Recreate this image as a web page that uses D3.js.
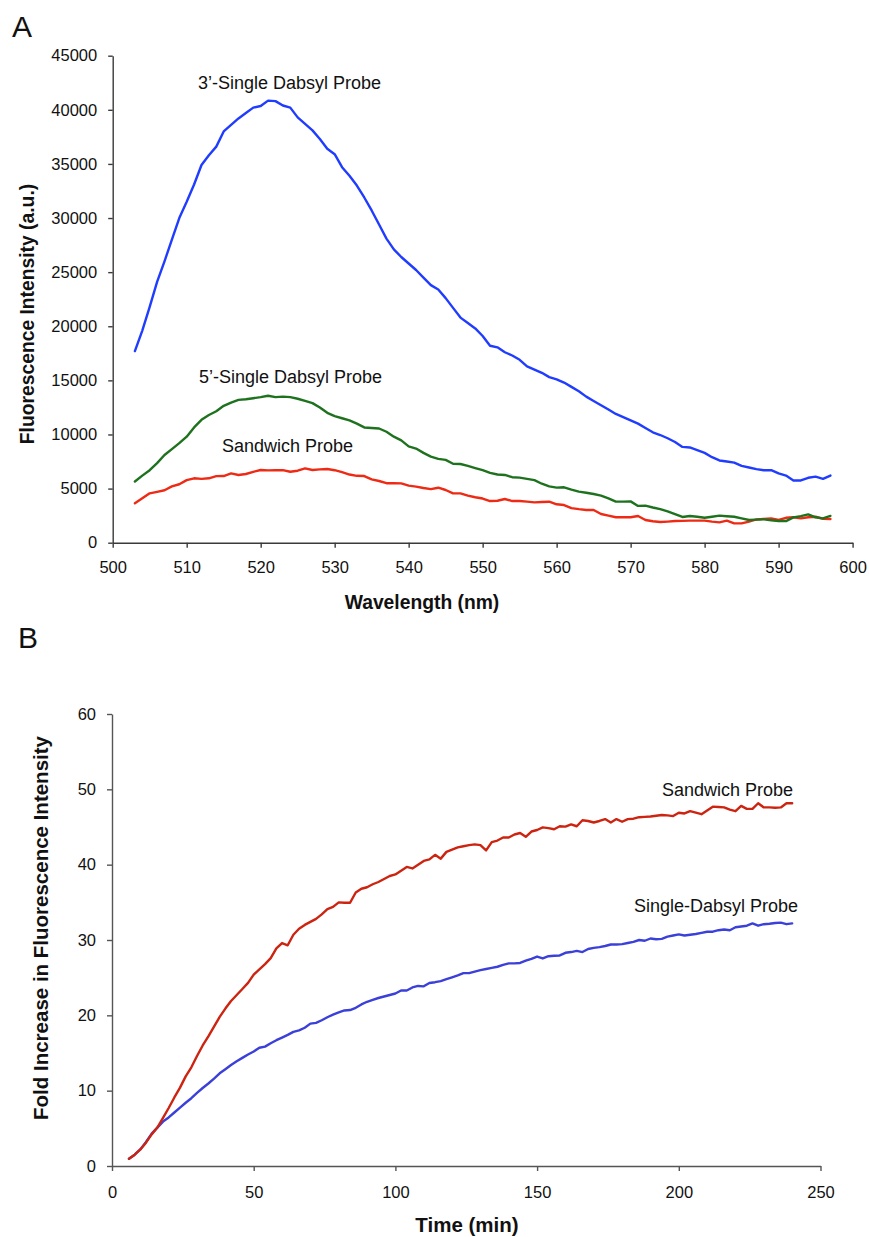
<!DOCTYPE html>
<html>
<head>
<meta charset="utf-8">
<script src="https://cdn.jsdelivr.net/npm/d3@7"></script>
<style>
    body { margin: 0; background: #fff; }
    text { font-family: "Liberation Sans", Arial, sans-serif; fill: #111; }
</style>
</head>
<body>
<div id="viz"></div>
<script>
// panel A : emission spectra, 503..597 nm
var wavelengths = d3.range(503, 598);

var single3 = [17700, 19600, 21800, 24100, 26000, 28000, 30000, 31500, 33100, 34900,
    35800, 36600, 38000, 38600, 39200, 39700, 40200, 40350, 40850, 40800,
    40400, 40200, 39300, 38700, 38100, 37300, 36400, 35900, 34700, 33900,
    33000, 31900, 30700, 29400, 28100, 27100, 26400, 25800, 25200, 24500,
    23800, 23400, 22600, 21700, 20800, 20300, 19800, 19100, 18200, 18050,
    17600, 17300, 16900, 16300, 16000, 15700, 15300, 15100, 14800, 14400,
    14000, 13500, 13100, 12700, 12300, 11900, 11600, 11300, 11000, 10600,
    10200, 9950, 9650, 9300, 8850, 8800, 8550, 8300, 7900, 7600,
    7500, 7400, 7100, 6950, 6800, 6700, 6700, 6400, 6200, 5750,
    5750, 6000, 6100, 5900, 6200];

var single5 = [5650, 6200, 6700, 7350, 8100, 8650, 9200, 9800, 10650, 11350,
    11800, 12150, 12650, 12950, 13200, 13250, 13350, 13450, 13580, 13450,
    13500, 13450, 13300, 13100, 12900, 12500, 12000, 11700, 11500, 11300,
    11000, 10650, 10600, 10550, 10250, 9800, 9450, 8900, 8700, 8300,
    7950, 7750, 7650, 7300, 7270, 7100, 6900, 6700, 6450, 6300,
    6260, 6050, 6010, 5900, 5780, 5450, 5200, 5090, 5120, 4900,
    4720, 4620, 4500, 4350, 4100, 3800, 3800, 3820, 3400, 3420,
    3250, 3100, 2900, 2650, 2380, 2470, 2400, 2310, 2400, 2500,
    2450, 2400, 2250, 2100, 2130, 2160, 2080, 2000, 2000, 2340,
    2450, 2620, 2350, 2250, 2470];

var sandwichA = [3640, 4100, 4560, 4700, 4850, 5200, 5400, 5780, 5950, 5900,
    5950, 6150, 6160, 6400, 6260, 6350, 6550, 6720, 6680, 6700,
    6700, 6560, 6650, 6870, 6720, 6780, 6810, 6700, 6520, 6300,
    6180, 6160, 5850, 5700, 5500, 5490, 5480, 5270, 5180, 5050,
    4950, 5080, 4870, 4560, 4560, 4350, 4200, 4080, 3850, 3880,
    4040, 3850, 3850, 3800, 3730, 3760, 3790, 3550, 3480, 3200,
    3100, 3020, 3020, 2650, 2500, 2350, 2350, 2350, 2470, 2100,
    1980, 1910, 1950, 2000, 2020, 2040, 2040, 2040, 1950, 1880,
    2040, 1790, 1790, 1950, 2150, 2200, 2250, 2100, 2300, 2350,
    2250, 2350, 2400, 2200, 2190];

var aTicksX = [500, 510, 520, 530, 540, 550, 560, 570, 580, 590, 600];
var aTicksY = [0, 5000, 10000, 15000, 20000, 25000, 30000, 35000, 40000, 45000];

// panel B : kinetics, 6..240 min every 2 min
var times = d3.range(6, 241, 2);

var sandwichB = [0.95, 1.5, 2.2, 3.1, 4.2, 5.1, 6.4, 7.7, 9.1, 10.4,
    11.9, 13.1, 14.6, 16.0, 17.2, 18.5, 19.8, 20.9, 21.9, 22.7,
    23.5, 24.3, 25.4, 26.1, 26.8, 27.6, 28.9, 29.6, 29.3, 30.7,
    31.5, 32.0, 32.4, 32.8, 33.4, 34.1, 34.4, 35.0, 34.95, 34.95,
    36.3, 36.8, 37.0, 37.4, 37.7, 38.1, 38.5, 38.7, 39.2, 39.7,
    39.5, 40.0, 40.5, 40.7, 41.3, 40.8, 41.7, 42.0, 42.3, 42.45,
    42.6, 42.7, 42.6, 41.9, 43.0, 43.2, 43.6, 43.6, 44.0, 44.2,
    43.7, 44.4, 44.6, 44.95, 44.85, 44.7, 45.1, 45.05, 45.35, 45.1,
    45.9, 45.8, 45.6, 45.8, 46.05, 45.6, 46.05, 45.7, 46.05, 46.1,
    46.3, 46.35, 46.4, 46.5, 46.6, 46.55, 46.45, 46.9, 46.8, 47.1,
    46.9, 46.7, 47.2, 47.7, 47.65, 47.6, 47.3, 47.1, 47.8, 47.4,
    47.4, 48.15, 47.6, 47.6, 47.55, 47.6, 48.15, 48.15];

var singleB = [0.95, 1.5, 2.2, 3.2, 4.3, 5.1, 5.9, 6.45, 7.1, 7.75,
    8.4, 9.0, 9.7, 10.35, 10.95, 11.6, 12.3, 12.85, 13.4, 13.9,
    14.35, 14.8, 15.2, 15.7, 15.85, 16.3, 16.7, 17.05, 17.4, 17.8,
    18.0, 18.35, 18.9, 19.0, 19.35, 19.75, 20.1, 20.4, 20.65, 20.7,
    21.0, 21.45, 21.8, 22.05, 22.3, 22.5, 22.7, 22.9, 23.3, 23.3,
    23.7, 23.9, 23.85, 24.3, 24.4, 24.55, 24.8, 25.05, 25.3, 25.6,
    25.6, 25.8, 26.0, 26.15, 26.3, 26.45, 26.7, 26.9, 26.9, 26.95,
    27.25, 27.5, 27.8, 27.55, 27.85, 27.9, 27.95, 28.3, 28.4, 28.55,
    28.4, 28.8, 28.95, 29.05, 29.2, 29.4, 29.4, 29.45, 29.6, 29.75,
    30.0, 29.9, 30.2, 30.1, 30.15, 30.45, 30.6, 30.75, 30.6, 30.7,
    30.8, 30.95, 31.1, 31.1, 31.3, 31.4, 31.3, 31.7, 31.8, 31.9,
    32.2, 31.9, 32.1, 32.15, 32.25, 32.3, 32.1, 32.2];

var bTicksX = [0, 50, 100, 150, 200, 250];
var bTicksY = [0, 10, 20, 30, 40, 50, 60];

var width = 869;
var height = 1237;

var svg = d3.select("#viz").append("svg")
    .attr("width", width)
    .attr("height", height);

// ---------- panel A ----------
var xA = d3.scaleLinear().domain([500, 600]).range([112.7, 852.6]);
var yA = d3.scaleLinear().domain([0, 45000]).range([542.7, 55.7]);

var gA = svg.append("g");

gA.append("g")
    .attr("transform", "translate(0," + yA(0) + ")")
    .call(d3.axisBottom(xA).tickValues(aTicksX).tickSize(5).tickSizeOuter(0).tickPadding(13.6).tickFormat(d3.format("d")))
    .call(styleAxis, "#3a3a3a");

gA.append("g")
    .attr("transform", "translate(" + xA(500) + ",0)")
    .call(d3.axisLeft(yA).tickValues(aTicksY).tickSize(4.5).tickSizeOuter(0).tickPadding(11).tickFormat(d3.format("d")))
    .call(styleAxis, "#3a3a3a");

drawLine(gA, wavelengths, sandwichA, xA, yA, "#ee2a14", 2.4);
drawLine(gA, wavelengths, single5, xA, yA, "#1e721e", 2.4);
drawLine(gA, wavelengths, single3, xA, yA, "#1f3cff", 2.4);

gA.append("text").attr("x", 12).attr("y", 37).style("font-size", "30px").text("A");

gA.append("text")
    .attr("transform", "translate(34,314) rotate(-90)")
    .attr("text-anchor", "middle")
    .style("font-size", "19.3px").style("font-weight", "bold")
    .text("Fluorescence Intensity (a.u.)");

gA.append("text")
    .attr("x", 422).attr("y", 609)
    .attr("text-anchor", "middle")
    .style("font-size", "19.3px").style("font-weight", "bold")
    .text("Wavelength (nm)");

gA.append("text").attr("x", 198).attr("y", 89).style("font-size", "18px").text("3\u2019-Single Dabsyl Probe");
gA.append("text").attr("x", 199).attr("y", 383).style("font-size", "18px").text("5\u2019-Single Dabsyl Probe");
gA.append("text").attr("x", 222).attr("y", 452).style("font-size", "18px").text("Sandwich Probe");

// ---------- panel B ----------
var xB = d3.scaleLinear().domain([0, 250]).range([112, 820.5]);
var yB = d3.scaleLinear().domain([0, 60]).range([1166, 714]);

var gB = svg.append("g");

gB.append("g")
    .attr("transform", "translate(0," + yB(0) + ")")
    .call(d3.axisBottom(xB).tickValues(bTicksX).tickSize(5).tickSizeOuter(0).tickPadding(15))
    .call(styleAxis, "#555");

gB.append("g")
    .attr("transform", "translate(" + xB(0) + ",0)")
    .call(d3.axisLeft(yB).tickValues(bTicksY).tickSize(5).tickSizeOuter(0).tickPadding(11))
    .call(styleAxis, "#555");

drawLine(gB, times, singleB, xB, yB, "#3b40d8", 2.4);
drawLine(gB, times, sandwichB, xB, yB, "#cc2410", 2.4);

gB.append("text").attr("x", 18).attr("y", 648).style("font-size", "30px").text("B");

gB.append("text")
    .attr("transform", "translate(48,928) rotate(-90)")
    .attr("text-anchor", "middle")
    .style("font-size", "20.5px").style("font-weight", "bold")
    .text("Fold Increase in Fluorescence Intensity");

gB.append("text")
    .attr("x", 467).attr("y", 1232)
    .attr("text-anchor", "middle")
    .style("font-size", "20.5px").style("font-weight", "bold")
    .text("Time (min)");

gB.append("text").attr("x", 662).attr("y", 796).style("font-size", "18px").text("Sandwich Probe");
gB.append("text").attr("x", 634).attr("y", 912).style("font-size", "18px").text("Single-Dabsyl Probe");

function styleAxis(g, color) {
    g.select(".domain").attr("stroke", color).attr("stroke-width", 1.4);
    g.selectAll(".tick line").attr("stroke", color).attr("stroke-width", 1.4);
    g.selectAll(".tick text")
        .attr("fill", "#111")
        .style("font-size", "16.5px")
        .style("font-family", "'Liberation Sans', Arial, sans-serif");
}

function drawLine(g, xs, ys, sx, sy, color, w) {
    var pts = xs.map(function (d, i) { return [d, ys[i]]; });
    var line = d3.line()
        .x(function (d) { return sx(d[0]); })
        .y(function (d) { return sy(d[1]); });
    g.append("path")
        .datum(pts)
        .attr("d", line)
        .attr("fill", "none")
        .attr("stroke", color)
        .attr("stroke-width", w)
        .attr("stroke-linejoin", "round")
        .attr("stroke-linecap", "round");
}
</script>
</body>
</html>
